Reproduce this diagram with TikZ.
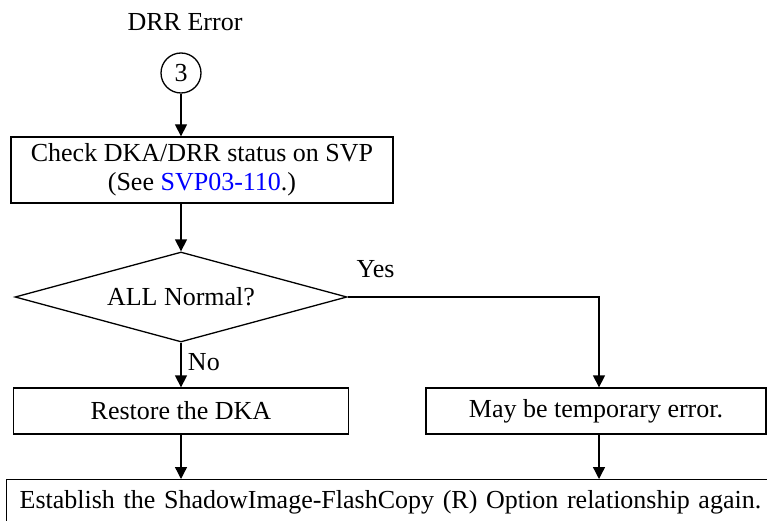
\documentclass[tikz,border=0pt]{standalone}
\usepackage{fontspec}
\setmainfont{Liberation Serif}
\usepackage{xcolor}
\usepackage{tikz}
\usetikzlibrary{shapes, arrows.meta, positioning}
\definecolor{linkblue}{RGB}{0,0,255}

\tikzset{
  stepbox/.style={draw, line width=1.3pt, rectangle, inner sep=4pt},
  decision/.style={draw, line width=1.3pt, diamond, aspect=3.7, inner sep=0pt,
    minimum width=332pt, minimum height=90pt},
  conn/.style={draw, line width=1.3pt, circle, inner sep=0pt, minimum size=40pt},
  flow/.style={line width=1.3pt, -{Triangle[length=12pt, width=12pt]}},
}

\begin{document}
\begin{tikzpicture}[x=1pt, y=-1pt, font=\fontsize{26}{29}\selectfont]
  \useasboundingbox (0,0) rectangle (767,521);
  \clip (0,0) rectangle (767,521);
  \node (title) at (185,22) {DRR Error};
  \node[conn] (c3) at (181,73) {3};
  \node[stepbox, minimum width=382pt, minimum height=66pt, align=center] (check) at (202,170)
    {Check DKA/DRR status on SVP\\(See \textcolor{linkblue}{SVP03-110}.)};
  \node[decision] (normal) at (181,297) {ALL Normal?};
  \node[stepbox, minimum width=335pt, minimum height=46pt] (restore) at (181,411) {Restore the DKA};
  \node[stepbox, minimum width=340pt, minimum height=46pt] (temp) at (596,411) {May be temporary error.};
  % last box runs off the page
  \node[stepbox, anchor=north west, text width=770pt, inner xsep=13pt,
    text height=25pt, text depth=40pt, align=left] (again) at (6,479)
    {Establish the ShadowImage-FlashCopy (R) Option relationship again.};
  % connectors
  \draw[flow] (c3.south) -- (c3.south |- check.north);
  \draw[flow] (check.south -| c3) -- (normal.north);
  \draw[flow] (normal.south) -- node[right, xshift=3pt, yshift=3pt] {No} (normal.south |- restore.north);
  \draw[flow] (normal.east) node[anchor=base west, xshift=5pt, yshift=20pt] {Yes} -| ([xshift=3pt]temp.north);
  \draw[flow] (restore.south) -- (restore.south |- again.north);
  \draw[flow] ([xshift=3pt]temp.south) -- ([xshift=3pt]temp.south |- again.north);
\end{tikzpicture}
\end{document}
